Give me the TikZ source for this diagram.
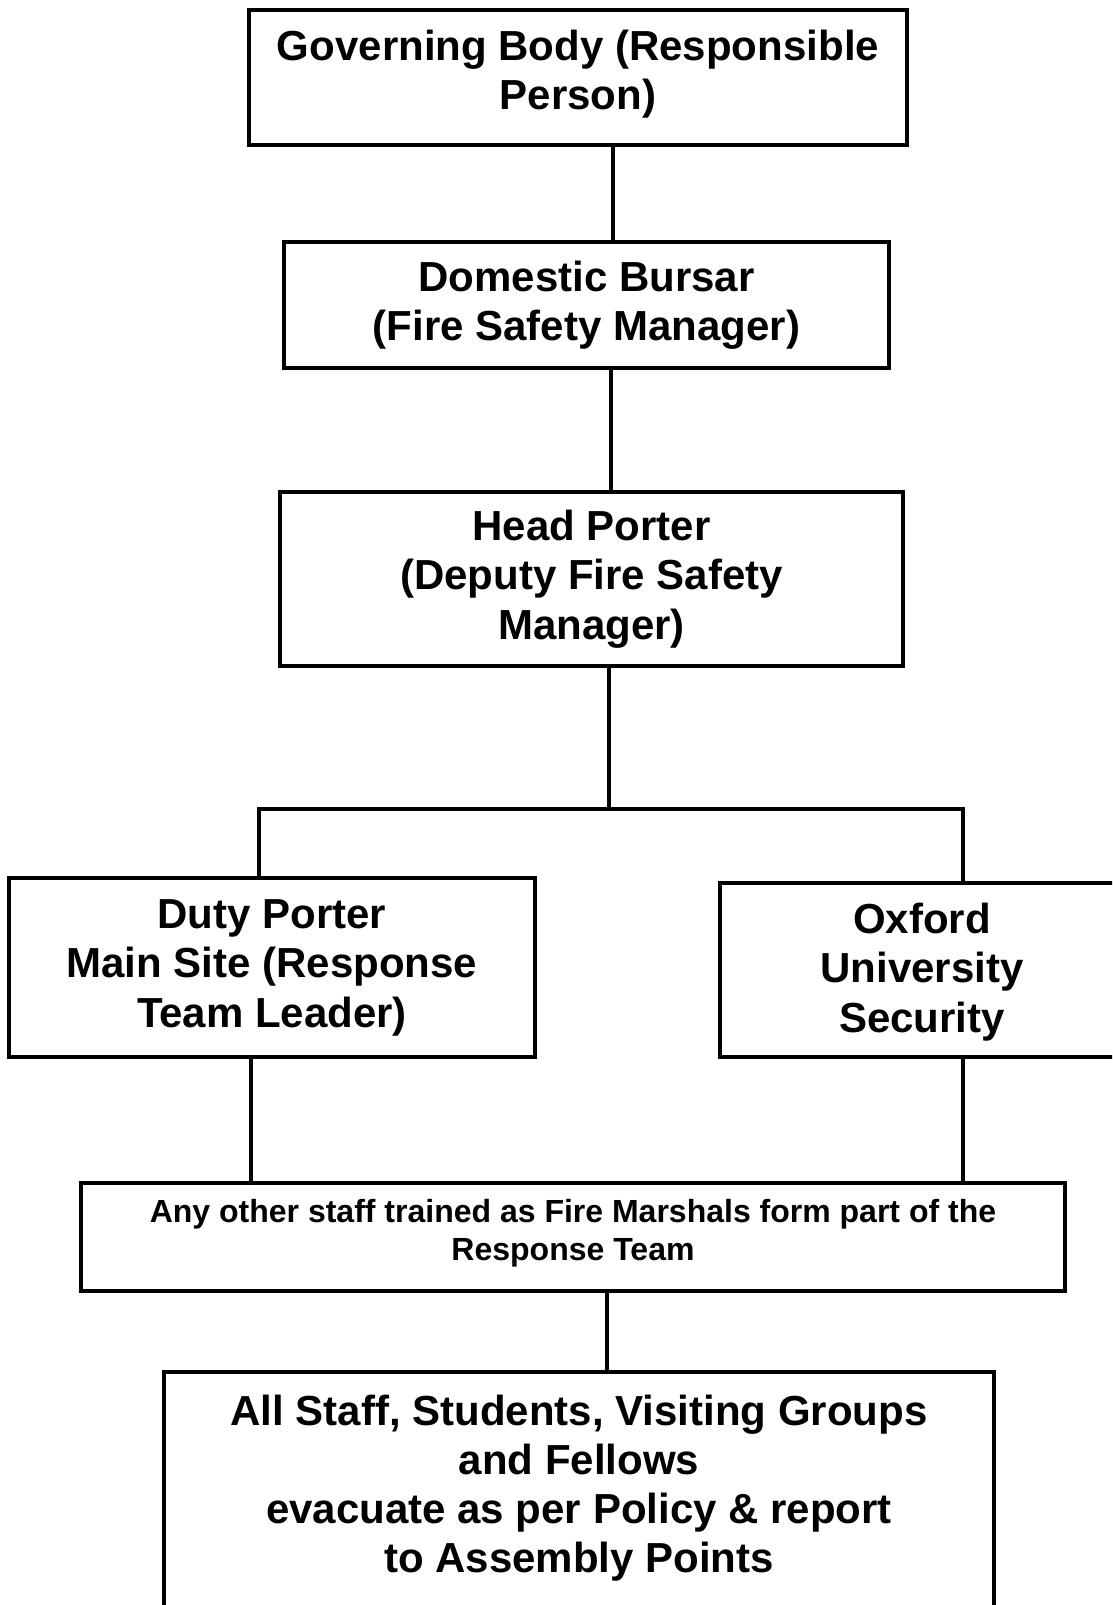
\documentclass[tikz,border=0pt]{standalone}
\usepackage{fontspec}
\setmainfont{Liberation Sans}
\begin{document}
\begin{tikzpicture}[x=1pt,y=-1pt,
  box/.style={draw=black, line width=4pt, fill=white, align=center, inner sep=0pt,
    font=\bfseries\fontsize{42}{49.5}\selectfont},
  lbl/.style={align=center, inner sep=0pt, font=\bfseries\fontsize{42}{49.5}\selectfont},
  conn/.style={draw=black, line width=3.5pt}]
\clip (0,0) rectangle (1112,1605);
\fill[white] (0,0) rectangle (1112,1605);
% boxes
\node[box, minimum width=658, minimum height=135] (gov) at (578,77.5) {};
\node[lbl] (govt) at (578,74) {Governing Body (Responsible\\Person)};
\node[box, minimum width=605, minimum height=126] (dom) at (586.5,305) {Domestic Bursar\\(Fire Safety Manager)};
\node[box, minimum width=623, minimum height=174] (head) at (591.5,579) {Head Porter\\(Deputy Fire Safety\\Manager)};
\node[box, minimum width=526, minimum height=179] (duty) at (272,967.5) {Duty Porter\\Main Site (Response\\Team Leader)};
\node[box, minimum width=404, minimum height=174] (oxf) at (922,970) {};
\node[lbl] (oxft) at (922,972) {Oxford\\University\\Security};
\node[box, minimum width=984, minimum height=108] (any) at (573,1237) {};
\node[lbl, font=\bfseries\fontsize{32}{37.5}\selectfont] (anyt) at (573,1233) {Any other staff trained as Fire Marshals form part of the\\Response Team};
\node[box, minimum width=830, minimum height=300] (all) at (579,1522) {};
\node[lbl, font=\bfseries\fontsize{42}{49}\selectfont] (allt) at (579,1488) {All Staff, Students, Visiting Groups\\and Fellows\\evacuate as per Policy \& report\\to Assembly Points};
% connectors
\coordinate (j) at (609,809);
\coordinate (jl) at (259,809);
\coordinate (jr) at (963,809);
\draw[conn] (gov.south -| 613,0) -- (dom.north -| 613,0);
\draw[conn] (dom.south -| 611,0) -- (head.north -| 611,0);
\draw[conn] (head.south -| j) -- (j);
\draw[conn, line cap=rect] (jl) -- (jr);
\draw[conn] (jl) -- (jl |- duty.north);
\draw[conn] (jr) -- (jr |- oxf.north);
\draw[conn] (duty.south -| 251,0) -- (any.north -| 251,0);
\draw[conn] (oxf.south -| 963,0) -- (any.north -| 963,0);
\draw[conn] (any.south -| 607,0) -- (all.north -| 607,0);
\end{tikzpicture}
\end{document}
